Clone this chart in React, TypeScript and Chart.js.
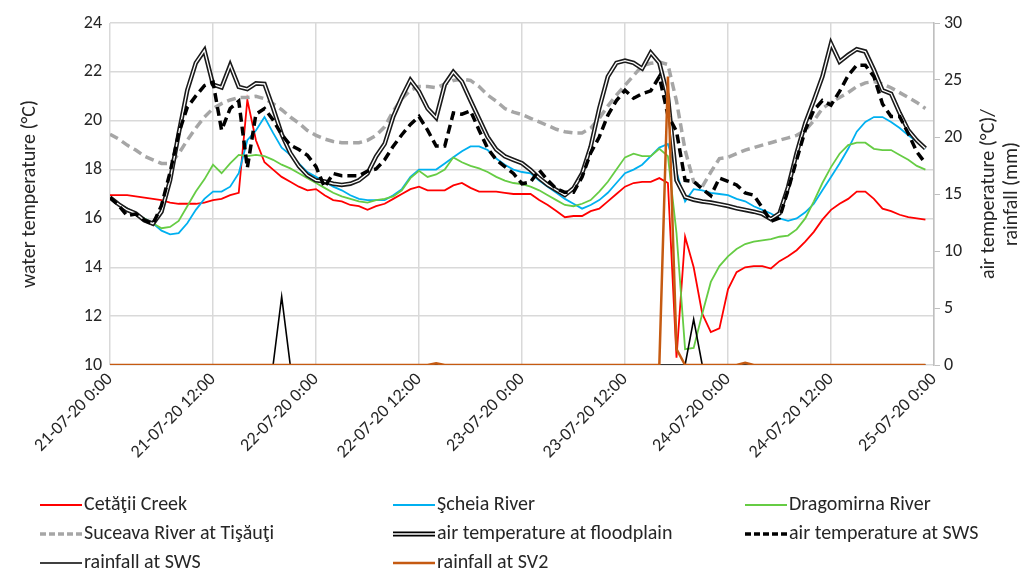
import { useEffect, useRef } from "react";
import { Chart, registerables } from "chart.js";

Chart.register(...registerables);

const FONT = "Carlito, 'Liberation Sans Narrow', 'Open Sans', sans-serif";

const xTickLabels = [
  "21-07-20 0:00",
  "21-07-20 12:00",
  "22-07-20 0:00",
  "22-07-20 12:00",
  "23-07-20 0:00",
  "23-07-20 12:00",
  "24-07-20 0:00",
  "24-07-20 12:00",
  "25-07-20 0:00",
];

const seriesNames = [
  "Cetăţii Creek",
  "Şcheia River",
  "Dragomirna River",
  "Suceava River at Tişăuţi",
  "air temperature at floodplain",
  "air temperature at SWS",
  "rainfall at SWS",
  "rainfall at SV2",
];

// hourly values, 21-07-20 0:00 .. 24-07-20 23:00
const cetatii = [
  16.95, 16.95, 16.95, 16.9, 16.85, 16.8, 16.75, 16.65, 16.6, 16.6, 16.6, 16.65,
  16.75, 16.8, 16.95, 17.05, 20.85, 19.2, 18.3, 18.0, 17.7, 17.5, 17.3, 17.15,
  17.2, 16.95, 16.75, 16.7, 16.55, 16.5, 16.35, 16.5, 16.6, 16.8, 17.0, 17.2,
  17.3, 17.15, 17.15, 17.15, 17.35, 17.45, 17.25, 17.1, 17.1, 17.1, 17.05, 17.0,
  17.0, 17.0, 16.75, 16.55, 16.3, 16.05, 16.1, 16.1, 16.3, 16.4, 16.7, 17.0,
  17.3, 17.45, 17.5, 17.5, 17.65, 17.45, 10.3, 15.25, 14.0, 12.1, 11.35, 11.5,
  13.1, 13.8, 14.0, 14.05, 14.05, 13.95, 14.25, 14.45, 14.7, 15.05, 15.45, 15.95,
  16.35, 16.6, 16.8, 17.1, 17.1, 16.8, 16.4, 16.3, 16.15, 16.05, 16.0, 15.95,
];

const scheia = [
  16.85, 16.6, 16.4, 16.2, 16.0, 15.8, 15.5, 15.35, 15.4, 15.8, 16.35, 16.8,
  17.1, 17.1, 17.3, 17.85, 19.2, 19.6, 20.15, 19.5, 18.9, 18.6, 18.25, 17.9,
  17.7, 17.5, 17.3, 17.15, 16.95, 16.8, 16.75, 16.75, 16.75, 16.95, 17.2, 17.7,
  18.0, 18.0, 18.0, 18.25, 18.5, 18.75, 18.95, 18.95, 18.8, 18.45, 18.2, 18.0,
  17.9, 17.85, 17.55, 17.3, 17.05, 16.8, 16.6, 16.4, 16.55, 16.75, 17.05, 17.45,
  17.85, 18.0, 18.2, 18.55, 18.9, 19.05, 17.9, 16.7, 17.2, 17.15, 17.05, 17.0,
  16.95, 16.8, 16.7, 16.5, 16.35, 16.2, 16.0, 15.9, 16.0, 16.25, 16.6, 17.15,
  17.7, 18.25, 18.85, 19.55, 19.95, 20.15, 20.15, 19.95, 19.7, 19.4, 19.15, 18.85,
];

const dragomirna = [
  16.85, 16.6, 16.4, 16.2, 16.0, 15.8, 15.6, 15.65, 15.9, 16.5, 17.1, 17.6,
  18.2, 17.85, 18.25, 18.6, 18.55, 18.6, 18.55, 18.4, 18.2, 18.05, 17.85, 17.65,
  17.45, 17.25, 17.05, 16.9, 16.8, 16.7, 16.65, 16.75, 16.8, 16.9, 17.15, 17.65,
  17.95, 17.7, 17.8, 18.0, 18.5, 18.3, 18.15, 18.05, 17.9, 17.7, 17.55, 17.45,
  17.4, 17.3, 17.15, 16.95, 16.75, 16.55, 16.5, 16.6, 16.75, 17.1, 17.5, 18.0,
  18.5, 18.65, 18.55, 18.55, 18.85, 18.55, 15.4, 10.65, 10.7, 12.1, 13.4, 14.05,
  14.45, 14.75, 14.95, 15.05, 15.1, 15.15, 15.25, 15.3, 15.55, 16.0, 16.7, 17.45,
  18.1, 18.65, 19.0, 19.1, 19.1, 18.85, 18.8, 18.8, 18.6, 18.4, 18.15, 18.0,
];

const suceava = [
  19.45, 19.25, 19.0, 18.8, 18.55, 18.4, 18.25, 18.25, 18.65, 19.2, 19.7, 20.15,
  20.5, 20.7, 20.85, 20.95, 20.95, 21.0, 20.9, 20.7, 20.45, 20.15, 19.9, 19.6,
  19.4, 19.25, 19.15, 19.1, 19.1, 19.1, 19.2, 19.4, 19.75, 20.4, 20.9, 21.25,
  21.4, 21.4, 21.35, 21.5, 21.65, 21.7, 21.65, 21.4, 21.05, 20.8, 20.5, 20.35,
  20.25, 20.1, 19.95, 19.8, 19.65, 19.55, 19.5, 19.5, 19.7, 20.1, 20.6, 21.05,
  21.45, 21.85, 22.25, 22.35, 22.4, 22.3, 20.8, 18.8, 17.5, 17.3, 17.9, 18.45,
  18.5, 18.65, 18.8, 18.9, 19.0, 19.1, 19.2, 19.3, 19.4, 19.6, 20.0, 20.5,
  20.75, 20.95, 21.15, 21.4, 21.55, 21.6, 21.5, 21.35, 21.15, 20.95, 20.75, 20.5,
];

const airFloodplain = [
  14.7, 14.1, 13.6, 13.3, 12.7, 12.4, 13.45, 16.2, 20.3, 24.1, 26.5, 27.6,
  24.6, 24.35, 26.3, 24.4, 24.2, 24.7, 24.65, 22.55, 20.25, 18.6, 17.45, 16.65,
  16.2, 16.1, 15.9, 15.8, 15.9, 16.2, 16.8, 18.3, 19.4, 21.8, 23.5, 25.0,
  24.0, 22.5, 21.7, 24.6, 25.7, 24.85, 23.2, 21.6, 20.0, 18.9, 18.3, 18.0,
  17.7, 17.1, 16.4, 15.8, 15.35, 14.9, 15.5, 16.8, 19.15, 22.5, 25.3, 26.5,
  26.7, 26.5, 26.0, 27.4, 26.5, 23.5, 16.2, 14.75, 14.5, 14.35, 14.25, 14.1,
  13.95, 13.75, 13.6, 13.45, 13.25, 12.8, 13.3, 15.6, 18.6, 21.2, 23.2, 25.3,
  28.2, 26.6, 27.2, 27.7, 27.5, 25.9, 24.1, 23.8, 22.1, 20.6, 19.7, 19.0,
];

const airSWS = [
  14.7, 14.0, 13.1, 13.25, 12.7, 12.35, 14.0, 16.9, 20.3, 22.6, 23.6, 24.5,
  24.8, 20.6, 22.5, 23.15, 17.3, 22.0, 22.5, 21.5, 20.2, 19.3, 18.9, 18.4,
  17.4, 15.6, 16.8, 16.6, 16.6, 16.6, 17.0, 17.2, 18.0, 19.2, 20.2, 21.1,
  21.8, 20.6, 19.2, 19.2, 22.1, 22.0, 22.3, 20.6, 19.0, 18.0, 17.4, 16.8,
  15.9, 16.05, 17.1, 16.2, 15.45, 15.15, 15.15, 16.5, 18.6, 20.0, 21.9, 23.2,
  24.1, 23.4, 23.8, 24.05, 25.3, 21.9, 20.5, 16.2, 16.1, 15.45, 14.85, 16.4,
  16.1, 15.8, 15.1, 14.9, 13.8, 12.6, 12.9, 15.35, 18.0, 20.6, 22.35, 23.2,
  22.8, 24.0, 25.4, 26.3, 26.3, 25.3, 22.9, 21.8, 21.8, 20.3, 18.7, 17.7,
];

const rainSWS = [
  0, 0, 0, 0, 0, 0, 0, 0, 0, 0, 0, 0,
  0, 0, 0, 0, 0, 0, 0, 0, 6.0, 0, 0, 0,
  0, 0, 0, 0, 0, 0, 0, 0, 0, 0, 0, 0,
  0, 0, 0, 0, 0, 0, 0, 0, 0, 0, 0, 0,
  0, 0, 0, 0, 0, 0, 0, 0, 0, 0, 0, 0,
  0, 0, 0, 0, 0, 0, 0, 0, 4.0, 0, 0, 0,
  0, 0, 0, 0, 0, 0, 0, 0, 0, 0, 0, 0,
  0, 0, 0, 0, 0, 0, 0, 0, 0, 0, 0, 0,
];

const rainSV2 = [
  0, 0, 0, 0, 0, 0, 0, 0, 0, 0, 0, 0,
  0, 0, 0, 0, 0, 0, 0, 0, 0, 0, 0, 0,
  0, 0, 0, 0, 0, 0, 0, 0, 0, 0, 0, 0,
  0, 0, 0.15, 0, 0, 0, 0, 0, 0, 0, 0, 0,
  0, 0, 0, 0, 0, 0, 0, 0, 0, 0, 0, 0,
  0, 0, 0, 0, 0, 25.3, 1.4, 0, 0, 0, 0, 0,
  0, 0, 0.2, 0, 0, 0, 0, 0, 0, 0, 0, 0,
  0, 0, 0, 0, 0, 0, 0, 0, 0, 0, 0, 0,
];

const toXY = (arr: number[]) => arr.map((v, i) => ({ x: i, y: v }));

type LegendStyle = {
  color: string;
  width: number;
  dash?: number[];
  double?: boolean;
};

const legendStyles: LegendStyle[] = [
  { color: "#ff0000", width: 1.8 },
  { color: "#00b0f0", width: 1.8 },
  { color: "#66cc44", width: 1.8 },
  { color: "#a6a6a6", width: 3.5, dash: [6, 3] },
  { color: "#000000", width: 5, double: true },
  { color: "#000000", width: 3.5, dash: [6, 3] },
  { color: "#000000", width: 1.6 },
  { color: "#c55a11", width: 2.5 },
];

const legendColX = [40, 393, 745];
const legendRowY = [505, 534, 563];

const customPlugin = {
  id: "customLegendAndTitle",
  afterDraw(chart: any) {
    const ctx = chart.ctx as CanvasRenderingContext2D;
    ctx.save();
    ctx.font = `20px ${FONT}`;
    ctx.textBaseline = "middle";
    ctx.textAlign = "left";
    seriesNames.forEach((name, i) => {
      const st = legendStyles[i];
      const x = legendColX[i % 3];
      const y = legendRowY[Math.floor(i / 3)];
      ctx.beginPath();
      ctx.setLineDash(st.dash || []);
      ctx.strokeStyle = st.color;
      ctx.lineWidth = st.width;
      ctx.moveTo(x, y);
      ctx.lineTo(x + 42, y);
      ctx.stroke();
      if (st.double) {
        ctx.beginPath();
        ctx.strokeStyle = "#ffffff";
        ctx.lineWidth = 1.5;
        ctx.moveTo(x, y);
        ctx.lineTo(x + 42, y);
        ctx.stroke();
      }
      ctx.setLineDash([]);
      ctx.fillStyle = "#262626";
      ctx.fillText(name, x + 44, y);
    });
    // right axis title
    const area = chart.chartArea;
    const cy = (area.top + area.bottom) / 2;
    ctx.translate(1000, cy);
    ctx.rotate(-Math.PI / 2);
    ctx.textAlign = "center";
    ctx.fillText("air temperature (°C)/", 0, -11);
    ctx.fillText("rainfall (mm)", 0, 12);
    ctx.restore();
  },
};

export default function App() {
  const canvasRef = useRef<HTMLCanvasElement | null>(null);

  useEffect(() => {
    if (!canvasRef.current) return;
    Chart.defaults.font.family = FONT;
    const chart = new Chart(canvasRef.current, {
      type: "line",
      data: {
        datasets: [
          {
            label: seriesNames[7],
            data: toXY(rainSV2),
            yAxisID: "y1",
            borderColor: "#c55a11",
            borderWidth: 2.5,
            order: 1,
          },
          {
            label: seriesNames[6],
            data: toXY(rainSWS),
            yAxisID: "y1",
            borderColor: "#000000",
            borderWidth: 1.6,
            order: 2,
          },
          {
            label: seriesNames[5],
            data: toXY(airSWS),
            yAxisID: "y1",
            borderColor: "#000000",
            borderWidth: 3.5,
            borderDash: [9, 5],
            order: 3,
          },
          {
            label: seriesNames[4] + " inner",
            data: toXY(airFloodplain),
            yAxisID: "y1",
            borderColor: "#ffffff",
            borderWidth: 1.3,
            order: 4,
          },
          {
            label: seriesNames[4],
            data: toXY(airFloodplain),
            yAxisID: "y1",
            borderColor: "#1a1a1a",
            borderWidth: 4.5,
            order: 5,
          },
          {
            label: seriesNames[3],
            data: toXY(suceava),
            yAxisID: "y",
            borderColor: "#a6a6a6",
            borderWidth: 3.5,
            borderDash: [9, 5],
            order: 6,
          },
          {
            label: seriesNames[2],
            data: toXY(dragomirna),
            yAxisID: "y",
            borderColor: "#66cc44",
            borderWidth: 1.8,
            order: 7,
          },
          {
            label: seriesNames[1],
            data: toXY(scheia),
            yAxisID: "y",
            borderColor: "#00b0f0",
            borderWidth: 1.8,
            order: 8,
          },
          {
            label: seriesNames[0],
            data: toXY(cetatii),
            yAxisID: "y",
            borderColor: "#ff0000",
            borderWidth: 1.8,
            order: 9,
          },
        ],
      },
      options: {
        animation: false,
        responsive: false,
        events: [],
        layout: { padding: { top: 23, left: 0, right: 0, bottom: 0 } },
        elements: {
          point: { radius: 0 },
          line: { tension: 0, borderJoinStyle: "miter" },
        },
        plugins: {
          legend: { display: false },
          tooltip: { enabled: false },
        },
        scales: {
          x: {
            type: "linear",
            min: 0,
            max: 96,
            afterFit: (s: any) => {
              s.height = 212;
            },
            ticks: {
              stepSize: 12,
              maxRotation: 45,
              minRotation: 45,
              padding: 4,
              color: "#262626",
              font: { size: 18, family: FONT },
              callback: (v: any) => xTickLabels[Math.round(Number(v) / 12)] ?? "",
            },
            grid: { color: "#d9d9d9", lineWidth: 1.5, drawTicks: false },
            border: { display: false },
          },
          y: {
            position: "left",
            min: 10,
            max: 24,
            afterFit: (s: any) => {
              s.width = 110;
            },
            ticks: {
              stepSize: 2,
              padding: 8,
              color: "#262626",
              font: { size: 18, family: FONT },
            },
            grid: { color: "#d9d9d9", lineWidth: 1.5, drawTicks: false },
            border: { display: false },
            title: {
              display: true,
              text: "water temperature (°C)",
              color: "#262626",
              font: { size: 20, family: FONT },
              padding: { top: 18, bottom: 0 },
            },
          },
          y1: {
            position: "right",
            min: 0,
            max: 30,
            afterFit: (s: any) => {
              s.width = 91;
            },
            ticks: {
              stepSize: 5,
              padding: 4,
              color: "#262626",
              font: { size: 18, family: FONT },
            },
            grid: {
              drawOnChartArea: false,
              color: "#bfbfbf",
              lineWidth: 1,
              tickLength: 6,
            },
            border: { display: true, color: "#bfbfbf", width: 1.5 },
          },
        },
      },
      plugins: [customPlugin],
    });
    return () => chart.destroy();
  }, []);

  return (
    <div
      style={{
        position: "fixed",
        left: 0,
        top: 0,
        width: 1025,
        height: 577,
        background: "#ffffff",
      }}
    >
      <canvas ref={canvasRef} width={1025} height={577} />
    </div>
  );
}
